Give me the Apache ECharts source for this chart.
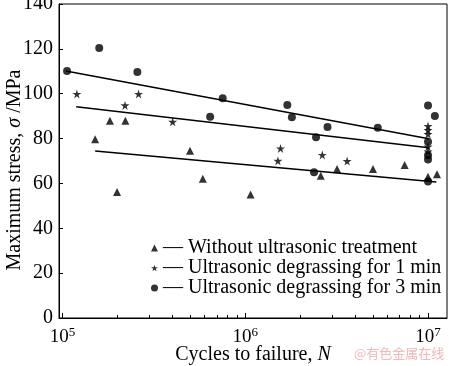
<!DOCTYPE html>
<html><head><meta charset="utf-8">
<script src="https://cdn.jsdelivr.net/npm/echarts@6/dist/echarts.min.js"></script>
<style>html,body{margin:0;padding:0;background:#fff}#c{width:450px;height:366px}</style>
</head><body><div id="c"></div>
<script>
// ---- data ----
const seriesNames = ['Without ultrasonic treatment', 'Ultrasonic degrassing for 1 min', 'Ultrasonic degrassing for 3 min'];

const triN = [1.51e5, 1.82e5, 2.21e5, 1.99e5, 4.99e5, 5.86e5, 1.07e6, 2.59e6, 3.18e6, 5.0e6, 7.45e6, 1.0e7, 1.12e7];
const triS = [79.7, 88.0, 88.0, 56.2, 74.6, 62.1, 55.1, 63.4, 66.4, 66.4, 68.2, 63.0, 64.1];

const starN = [1.2e5, 2.2e5, 2.61e5, 4.01e5, 1.56e6, 1.51e6, 2.64e6, 3.61e6, 1.0e7, 1.0e7, 1.0e7, 1.0e7, 1.0e7];
const starS = [99.9, 94.8, 99.9, 87.5, 75.6, 70.1, 72.7, 70.0, 85.6, 83.8, 82.0, 76.4, 74.2];

const circN = [1.06e5, 1.59e5, 2.57e5, 6.43e5, 7.53e5, 1.70e6, 1.80e6, 2.44e6, 2.82e6, 2.38e6, 5.31e6, 1.0e7, 1.09e7, 1.0e7, 1.0e7, 1.0e7, 1.0e7];
const circS = [110.1, 120.4, 109.7, 89.7, 98.0, 95.0, 89.5, 80.6, 85.2, 65.0, 84.8, 94.8, 90.1, 78.6, 72.6, 70.7, 60.9];

const triLineN = [1.51e5, 1.11e7];
const triLineS = [74.5, 60.6];
const starLineN = [1.19e5, 1.01e7];
const starLineS = [94.2, 75.9];
const circLineN = [1.044e5, 1.01e7];
const circLineS = [110.1, 79.9];

const xMajor = [1e5, 1e6, 1e7];
const xMinor = [2e5, 3e5, 4e5, 5e5, 6e5, 7e5, 8e5, 9e5, 2e6, 3e6, 4e6, 5e6, 6e6, 7e6, 8e6, 9e6];
const yTicks = [0, 20, 40, 60, 80, 100, 120, 140];

// ---- chart ----
const FONT = 'Liberation Serif';
const zip = (a, b) => a.map((v, i) => [v, b[i]]);
const STAR = 'path://M50,0 L61,35 L98,35 L68,57 L79,91 L50,70 L21,91 L32,57 L2,35 L39,35 Z';

const chart = echarts.init(document.getElementById('c'), null, {renderer: 'canvas'});
const xBase = {
  type: 'log', logBase: 10, min: 9.58e4, max: 1.27e7, gridIndex: 0
};
chart.setOption({
  animation: false,
  backgroundColor: '#fff',
  grid: {left: 59, right: 3, top: 4, bottom: 48, show: true, borderColor: '#000', borderWidth: 1,
         containLabel: false, outerBoundsMode: 'none'},
  legend: {
    orient: 'vertical', left: 146, top: 233, itemGap: 0,
    itemWidth: 7, itemHeight: 7,
    data: seriesNames,
    textStyle: {fontFamily: FONT, fontSize: 20, color: '#000'},
    formatter: n => '\u2014 ' + n
  },
  xAxis: [
    Object.assign({}, xBase, {
      position: 'bottom',
      axisLine: {lineStyle: {color: '#000', width: 1}},
      axisTick: {inside: true, length: 5, customValues: xMajor, lineStyle: {color: '#000'}},
      splitLine: {show: false}, minorTick: {show: false},
      axisLabel: {
        customValues: xMajor, margin: 8, color: '#000',
        formatter: v => '{b|10}{s|' + Math.round(Math.log10(v)) + '}',
        rich: {
          b: {fontFamily: FONT, fontSize: 19, color: '#000'},
          s: {fontFamily: FONT, fontSize: 13, color: '#000', padding: [0, 0, 10, 0]}
        }
      },
      name: 'Cycles to failure, {i|N}', nameLocation: 'middle', nameGap: 27,
      nameMoveOverlap: false,
      nameTextStyle: {fontFamily: FONT, fontSize: 20, color: '#000',
        rich: {i: {fontFamily: FONT, fontSize: 20, fontStyle: 'italic', color: '#000'}}}
    }),
    Object.assign({}, xBase, {
      position: 'bottom',
      axisLine: {show: false},
      axisTick: {inside: true, length: 3, customValues: xMinor, lineStyle: {color: '#000'}},
      axisLabel: {show: false}, splitLine: {show: false}
    })
  ],
  yAxis: {
    type: 'value', min: 0, max: 140, interval: 20,
    axisLine: {show: true, lineStyle: {color: '#000'}},
    axisTick: {inside: true, length: 4, lineStyle: {color: '#000'}},
    splitLine: {show: false},
    axisLabel: {color: '#000', fontFamily: FONT, fontSize: 20, margin: 6,
      formatter: v => yTicks.includes(v) ? String(v) : ''},
    name: 'Maximum stress, {i|σ} /MPa', nameLocation: 'middle', nameGap: 34,
    nameMoveOverlap: false,
    nameTextStyle: {fontFamily: FONT, fontSize: 20, color: '#000', padding: [0, 18, 0, 0],
      rich: {i: {fontFamily: FONT, fontSize: 20, fontStyle: 'italic', color: '#000'}}}
  },
  graphic: [{
    type: 'text', left: 354, top: 347, silent: true,
    style: {text: '@有色金属在线', fill: '#f0b8b8', font: '13px "Noto Sans CJK SC"'}
  }],
  series: [
    {name: seriesNames[0], type: 'scatter', symbol: 'triangle', symbolSize: 8,
     itemStyle: {color: '#000'}, data: zip(triN, triS)},
    {name: seriesNames[1], type: 'scatter', symbol: STAR, symbolSize: 9,
     itemStyle: {color: '#000'}, data: zip(starN, starS)},
    {name: seriesNames[2], type: 'scatter', symbol: 'circle', symbolSize: 8,
     itemStyle: {color: '#000'}, data: zip(circN, circS)},
    {type: 'line', showSymbol: false, symbol: 'none', data: zip(triLineN, triLineS),
     lineStyle: {color: '#000', width: 1.5}},
    {type: 'line', showSymbol: false, symbol: 'none', data: zip(starLineN, starLineS),
     lineStyle: {color: '#000', width: 1.5}},
    {type: 'line', showSymbol: false, symbol: 'none', data: zip(circLineN, circLineS),
     lineStyle: {color: '#000', width: 1.5}}
  ]
});
</script></body></html>
